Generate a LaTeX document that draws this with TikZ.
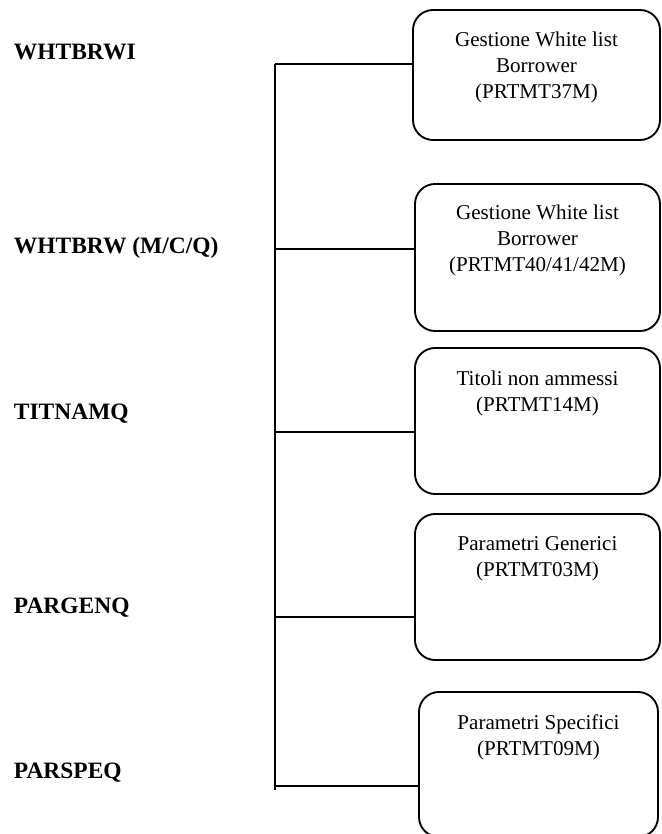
\documentclass[tikz,border=0pt]{standalone}
\usepackage{fontspec}
\setmainfont{Liberation Serif}

\begin{document}
\begin{tikzpicture}[x=0.75pt, y=-0.75pt, line width=1.4pt,
  box/.style={draw, rectangle, rounded corners=15pt, minimum width=245*0.75pt, inner sep=0pt},
  boxtext/.style={anchor=north, align=center, inner sep=0pt, font=\fontsize{15.8}{19.5}\selectfont},
  prog/.style={anchor=base west, inner sep=0pt, font=\fontsize{17.6}{20}\selectfont\bfseries}]

\useasboundingbox (0,0) rectangle (661,834);
\clip (0,0) rectangle (661,834);

\def\tx{275} % trunk x

% Program names (left)
\node[prog] (l1) at (13,60)  {WHTBRWI};
\node[prog] (l2) at (13,253) {WHTBRW (M/C/Q)};
\node[prog] (l3) at (13,419) {TITNAMQ};
\node[prog] (l4) at (13,613) {PARGENQ};
\node[prog] (l5) at (13,778) {PARSPEQ};

% Boxes (right)
\node[box, minimum width=247*0.75pt, minimum height=130*0.75pt] (b1) at (536.5,75) {};
\node[box, minimum height=147*0.75pt] (b2) at (537.5,257.5) {};
\node[box, minimum height=146*0.75pt] (b3) at (537.5,421) {};
\node[box, minimum height=146*0.75pt] (b4) at (537.5,587) {};
\node[box, minimum width=239*0.75pt, minimum height=145*0.75pt] (b5) at (538.5,764.5) {};

% Box texts
\node[boxtext] (t1) at ([yshift=-22*0.75pt]b1.north) {Gestione White list\\Borrower\\(PRTMT37M)};
\node[boxtext] (t2) at ([yshift=-21*0.75pt]b2.north) {Gestione White list\\Borrower\\(PRTMT40/41/42M)};
\node[boxtext] (t3) at ([yshift=-23*0.75pt]b3.north) {Titoli non ammessi\\(PRTMT14M)};
\node[boxtext] (t4) at ([yshift=-23*0.75pt]b4.north) {Parametri Generici\\(PRTMT03M)};
\node[boxtext] (t5) at ([yshift=-23*0.75pt]b5.north) {Parametri Specifici\\(PRTMT09M)};

% Trunk
\coordinate (c1) at (\tx,64);
\coordinate (c2) at (\tx,249);
\coordinate (c3) at (\tx,432);
\coordinate (c4) at (\tx,617);
\coordinate (c5) at (\tx,786);
\coordinate (cend) at (\tx,790);
\draw (c1) -- (cend);

% Branches
\foreach \i in {1,...,5}{
  \draw (c\i) -- (c\i -| b\i.west);
}

\end{tikzpicture}
\end{document}
